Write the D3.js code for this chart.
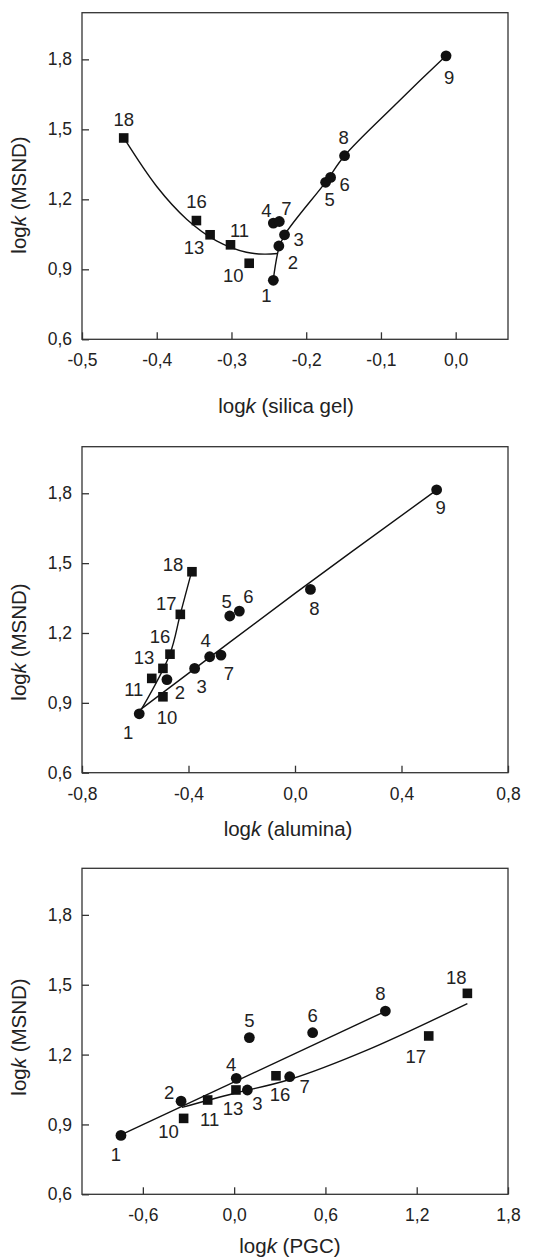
<!DOCTYPE html>
<html>
<head>
<meta charset="utf-8">
<script src="https://cdn.jsdelivr.net/npm/d3@7"></script>
<style>
  body { margin: 0; background: #fff; }
  svg text { font-family: Arial, "Liberation Sans", sans-serif; fill: #222; }
</style>
</head>
<body>
<svg id="chart" width="547" height="1260"></svg>
<script>
// compound numbers (1-9 circles, 10-18 squares)
const ids = [1, 2, 3, 4, 5, 6, 7, 8, 9, 10, 11, 13, 16, 17, 18];
// log k on MSND (y in every panel)
const logkMSND = [0.853, 1.0, 1.048, 1.098, 1.273, 1.294, 1.105, 1.387, 1.815, 0.926, 1.005, 1.048, 1.109, 1.28, 1.463];
// log k on the three reference phases (null = not shown)
const logkSilica = [-0.244, -0.2366, -0.229, -0.244, -0.174, -0.1674, -0.236, -0.1487, -0.0129, -0.2763, -0.3013, -0.3286, -0.3469, null, -0.4442];
const logkAlumina = [-0.585, -0.481, -0.377, -0.3205, -0.245, -0.209, -0.278, 0.058, 0.532, -0.496, -0.538, -0.496, -0.4695, -0.4307, -0.387];
const logkPGC = [-0.744, -0.349, 0.087, 0.014, 0.10, 0.516, 0.365, 0.994, null, -0.332, -0.174, 0.012, 0.275, 1.279, 1.533];

// fitted curves
const silicaFitCircles = [[-0.244, 0.857], [-0.2366, 0.99], [-0.229, 1.047], [-0.174, 1.274], [-0.1487, 1.387], [-0.0826, 1.60], [-0.0129, 1.815]];
const silicaFitSquares = [[-0.444, 1.463], [-0.40, 1.255], [-0.36, 1.115], [-0.32, 1.022], [-0.28, 0.973], [-0.256, 0.965], [-0.238, 0.968]];
const aluminaFitCircles = [[-0.581, 0.871], [0.0, 1.37], [0.521, 1.805]];
const aluminaFitSquares = [[-0.575, 0.876], [-0.47, 1.109], [-0.431, 1.28], [-0.389, 1.46]];
const pgcFitCircles = [[-0.744, 0.855], [0.994, 1.386]];
const pgcFitSquares = [[-0.343, 0.973], [-0.003, 1.033], [0.365, 1.093], [0.873, 1.219], [1.533, 1.419]];

const yTicks = [0.6, 0.9, 1.2, 1.5, 1.8];

// label offsets (px) per panel, keyed by compound
const labelOffsets = [
  {1: [-7, 15], 2: [14, 17], 3: [14, 5], 4: [-7, -13], 5: [4, 17], 6: [14, 7], 7: [7, -13], 8: [-1, -18], 9: [3, 22],
   10: [-16, 12], 11: [9, -14], 13: [-16, 13], 16: [0, -19], 18: [0, -18]},
  {1: [-11, 19], 2: [13, 13], 3: [7, 18], 4: [-4, -16], 5: [-3, -14], 6: [9, -15], 7: [8, 18], 8: [4, 19], 9: [4, 18],
   10: [4, 21], 11: [-18, 11], 13: [-19, -11], 16: [-10, -18], 17: [-14, -11], 18: [-19, -7]},
  {1: [-5, 19], 2: [-12, -9], 3: [10, 14], 4: [-5, -14], 5: [0, -17], 6: [0, -17], 7: [15, 10], 8: [-5, -18],
   10: [-15, 13], 11: [2, 20], 13: [-3, 19], 16: [4, 19], 17: [-13, 21], 18: [-11, -16]}
];

const panels = [
  {xs: logkSilica, fits: [silicaFitCircles, silicaFitSquares], title: " (silica gel)",
   xDomain: [-0.5, 0.07], xTicks: [-0.5, -0.4, -0.3, -0.2, -0.1, 0.0],
   top: 12.7, bottom: 339.3, titleX: 286, titleY: 405, yTitleY: 195},
  {xs: logkAlumina, fits: [aluminaFitCircles, aluminaFitSquares], title: " (alumina)",
   xDomain: [-0.8, 0.8], xTicks: [-0.8, -0.4, 0.0, 0.4, 0.8],
   top: 446.7, bottom: 772.7, titleX: 288, titleY: 828, yTitleY: 642},
  {xs: logkPGC, fits: [pgcFitCircles, pgcFitSquares], title: " (PGC)",
   xDomain: [-1.0, 1.8], xTicks: [-0.6, 0.0, 0.6, 1.2, 1.8],
   top: 868.3, bottom: 1194.3, titleX: 290, titleY: 1245, yTitleY: 1037}
];

const svg = d3.select("#chart");
const left = 82, right = 508;
const fmt = v => d3.format(".1f")(v).replace("\u2212", "-").replace(".", ",");

panels.forEach((p, pi) => {
  const x = d3.scaleLinear().domain(p.xDomain).range([left, right]);
  const y = d3.scaleLinear().domain([0.6, 2.0]).range([p.bottom, p.top]);
  const g = svg.append("g");

  const xAxis = g.append("g")
    .attr("transform", `translate(0,${p.bottom})`)
    .call(d3.axisBottom(x).tickValues(p.xTicks).tickSizeInner(-7).tickSizeOuter(0).tickPadding(14.5).tickFormat(fmt));
  const yAxis = g.append("g")
    .attr("transform", `translate(${left},0)`)
    .call(d3.axisLeft(y).tickValues(yTicks).tickSizeInner(-7).tickSizeOuter(0).tickPadding(10).tickFormat(fmt));
  [xAxis, yAxis].forEach(a => {
    a.select(".domain").remove();
    a.selectAll("line").attr("stroke", "#333").attr("stroke-width", 1.3);
    a.selectAll("text").attr("font-size", 17.5).attr("font-family", null).attr("fill", "#222");
  });

  // frame
  g.append("rect")
    .attr("x", left).attr("y", p.top)
    .attr("width", right - left).attr("height", p.bottom - p.top)
    .attr("fill", "none").attr("stroke", "#333").attr("stroke-width", 1.3);

  // fitted curves
  const line = d3.line()
    .x(d => x(d[0])).y(d => y(d[1]))
    .curve(d3.curveCatmullRom.alpha(0.5));
  g.selectAll(".fit")
    .data(p.fits)
    .enter()
    .append("path")
    .attr("class", "fit")
    .attr("d", line)
    .attr("fill", "none")
    .attr("stroke", "#111")
    .attr("stroke-width", 1.4);

  const pts = ids.map((id, i) => ({id, xv: p.xs[i], yv: logkMSND[i]})).filter(d => d.xv !== null);

  // markers
  g.selectAll(".circ")
    .data(pts.filter(d => d.id <= 9))
    .enter()
    .append("circle")
    .attr("cx", d => x(d.xv))
    .attr("cy", d => y(d.yv))
    .attr("r", 5.4)
    .attr("fill", "#111");
  g.selectAll(".sq")
    .data(pts.filter(d => d.id > 9))
    .enter()
    .append("rect")
    .attr("x", d => x(d.xv) - 4.8)
    .attr("y", d => y(d.yv) - 4.8)
    .attr("width", 9.6)
    .attr("height", 9.6)
    .attr("fill", "#111");

  // compound labels
  const offs = labelOffsets[pi];
  g.selectAll(".lab")
    .data(pts)
    .enter()
    .append("text")
    .attr("x", d => x(d.xv) + offs[d.id][0])
    .attr("y", d => y(d.yv) + offs[d.id][1])
    .attr("text-anchor", "middle")
    .attr("dominant-baseline", "central")
    .attr("font-size", 18.5)
    .text(d => d.id);

  // axis titles
  const xt = g.append("text")
    .attr("x", p.titleX).attr("y", p.titleY)
    .attr("text-anchor", "middle").attr("dominant-baseline", "central")
    .attr("font-size", 20.5);
  xt.append("tspan").text("log");
  xt.append("tspan").attr("font-style", "italic").text("k");
  xt.append("tspan").text(p.title);

  const yt = g.append("text")
    .attr("transform", `translate(18,${p.yTitleY}) rotate(-90)`)
    .attr("text-anchor", "middle").attr("dominant-baseline", "central")
    .attr("font-size", 20.5);
  yt.append("tspan").text("log");
  yt.append("tspan").attr("font-style", "italic").text("k");
  yt.append("tspan").text(" (MSND)");
});
</script>
</body>
</html>
